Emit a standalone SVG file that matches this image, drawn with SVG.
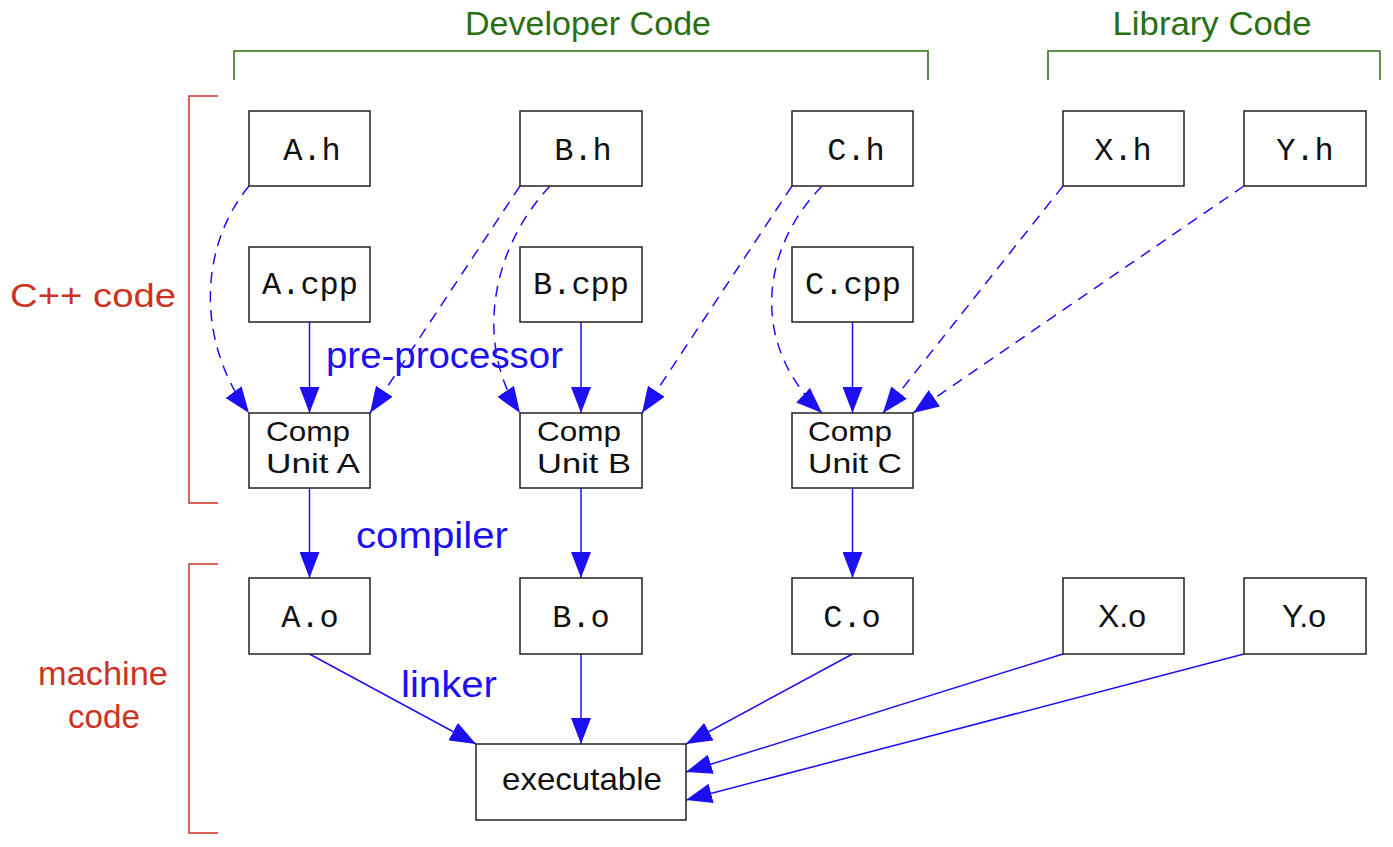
<svg xmlns="http://www.w3.org/2000/svg" width="1393" height="847" viewBox="0 0 1393 847">
<style>
.box{fill:#fff;stroke:#222;stroke-width:1.5}
.mono{font-family:"Liberation Mono","DejaVu Sans Mono",monospace;font-size:32px;fill:#111;text-anchor:middle}
.sans{font-family:"Liberation Sans","DejaVu Sans",sans-serif;font-size:31px;fill:#111}
.cu{font-family:"Liberation Sans","DejaVu Sans",sans-serif;font-size:28px;fill:#111}
.lbl{font-family:"Liberation Sans","DejaVu Sans",sans-serif;font-size:36px;fill:#1c0ff2}
.grn{font-family:"Liberation Sans","DejaVu Sans",sans-serif;font-size:33px;fill:#2b6e15;text-anchor:middle}
.red{font-family:"Liberation Sans","DejaVu Sans",sans-serif;font-size:33px;fill:#cc3322;text-anchor:middle}
.solid{fill:none;stroke:#1c0ff2;stroke-width:1.5;marker-end:url(#ah)}
.dash{fill:none;stroke:#1c0ff2;stroke-width:1.5;stroke-dasharray:11 8;marker-end:url(#ah)}
.gb{fill:none;stroke:#2b6e15;stroke-width:1.5}
.rb{fill:none;stroke:#cc3322;stroke-width:1.5}
</style>
<defs>
<marker id="ah" markerUnits="userSpaceOnUse" markerWidth="26" markerHeight="20" refX="26" refY="10" orient="auto">
<path d="M0,0 L26,10 L0,20 z" fill="#1c0ff2"/>
</marker>
</defs>
<rect width="1393" height="847" fill="#fff"/>

<g id="brackets">
<path class="gb" d="M234,80 V51 H928 V80"/>
<path class="gb" d="M1048,80 V51 H1380 V80"/>
<path class="rb" d="M218,96 H189 V503 H218"/>
<path class="rb" d="M218,564 H189 V833 H218"/>
<text class="grn" x="588" y="35" textLength="246" lengthAdjust="spacingAndGlyphs">Developer Code</text>
<text class="grn" x="1212" y="35" textLength="199" lengthAdjust="spacingAndGlyphs">Library Code</text>
<text class="red" x="93" y="307" textLength="166" lengthAdjust="spacingAndGlyphs">C++ code</text>
<text class="red" x="103" y="685" textLength="130" lengthAdjust="spacingAndGlyphs">machine</text>
<text class="red" x="104" y="728" textLength="72" lengthAdjust="spacingAndGlyphs">code</text>
</g>

<g id="connectors">
<path class="dash" d="M249,186 C200,245 195,340 249,413"/>
<path class="dash" d="M520,186 L370,413"/>
<path class="dash" d="M550,186 C490,250 475,345 520,413"/>
<path class="dash" d="M792,186 L642,413"/>
<path class="dash" d="M822,186 C760,250 750,345 822,413"/>
<path class="dash" d="M1063,186 L883,413"/>
<path class="dash" d="M1244,186 L913,413"/>
<path class="solid" d="M309.5,322 V413"/>
<path class="solid" d="M581,322 V413"/>
<path class="solid" d="M852.5,322 V413"/>
<path class="solid" d="M309.5,488 V578"/>
<path class="solid" d="M581,488 V578"/>
<path class="solid" d="M852.5,488 V578"/>
<path class="solid" d="M309.5,654 L476,744"/>
<path class="solid" d="M581,654 V744"/>
<path class="solid" d="M852.5,654 L686,744"/>
<path class="solid" d="M1063,654 L686,772"/>
<path class="solid" d="M1244,654 L686,800"/>
</g>

<g id="labels">
<text class="lbl" x="326" y="368" textLength="237" lengthAdjust="spacingAndGlyphs">pre-processor</text>
<text class="lbl" x="356" y="548" textLength="152" lengthAdjust="spacingAndGlyphs">compiler</text>
<text class="lbl" x="401" y="697" textLength="96" lengthAdjust="spacingAndGlyphs">linker</text>
</g>

<g id="A_h"><rect class="box" x="249" y="111" width="121" height="75"/><text class="mono" x="312" y="160">A.h</text></g>
<g id="B_h"><rect class="box" x="520" y="111" width="122" height="75"/><text class="mono" x="583" y="160">B.h</text></g>
<g id="C_h"><rect class="box" x="792" y="111" width="121" height="75"/><text class="mono" x="856" y="160">C.h</text></g>
<g id="X_h"><rect class="box" x="1063" y="111" width="121" height="75"/><text class="mono" x="1123" y="160">X.h</text></g>
<g id="Y_h"><rect class="box" x="1244" y="111" width="122" height="75"/><text class="mono" x="1305" y="160">Y.h</text></g>

<g id="A_cpp"><rect class="box" x="249" y="247" width="121" height="75"/><text class="mono" x="310" y="294">A.cpp</text></g>
<g id="B_cpp"><rect class="box" x="520" y="247" width="122" height="75"/><text class="mono" x="581" y="294">B.cpp</text></g>
<g id="C_cpp"><rect class="box" x="792" y="247" width="121" height="75"/><text class="mono" x="853" y="294">C.cpp</text></g>

<g id="CU_A"><rect class="box" x="249" y="413" width="121" height="75"/><text class="cu" x="266" y="441" textLength="84" lengthAdjust="spacingAndGlyphs">Comp</text><text class="cu" x="266" y="473" textLength="94" lengthAdjust="spacingAndGlyphs">Unit A</text></g>
<g id="CU_B"><rect class="box" x="520" y="413" width="122" height="75"/><text class="cu" x="537" y="441" textLength="84" lengthAdjust="spacingAndGlyphs">Comp</text><text class="cu" x="537" y="473" textLength="94" lengthAdjust="spacingAndGlyphs">Unit B</text></g>
<g id="CU_C"><rect class="box" x="792" y="413" width="121" height="75"/><text class="cu" x="808" y="441" textLength="84" lengthAdjust="spacingAndGlyphs">Comp</text><text class="cu" x="808" y="473" textLength="94" lengthAdjust="spacingAndGlyphs">Unit C</text></g>

<g id="A_o"><rect class="box" x="249" y="578" width="121" height="76"/><text class="mono" x="310" y="627">A.o</text></g>
<g id="B_o"><rect class="box" x="520" y="578" width="122" height="76"/><text class="mono" x="581" y="627">B.o</text></g>
<g id="C_o"><rect class="box" x="792" y="578" width="121" height="76"/><text class="mono" x="852" y="627">C.o</text></g>
<g id="X_o"><rect class="box" x="1063" y="578" width="121" height="76"/><text class="sans" x="1122" y="627" text-anchor="middle" style="font-size:32px">X.o</text></g>
<g id="Y_o"><rect class="box" x="1244" y="578" width="122" height="76"/><text class="sans" x="1304" y="627" text-anchor="middle" style="font-size:32px">Y.o</text></g>

<g id="executable"><rect class="box" x="476" y="744" width="210" height="76"/><text class="sans" x="502" y="790" textLength="160" lengthAdjust="spacingAndGlyphs" style="font-size:32px">executable</text></g>
</svg>
